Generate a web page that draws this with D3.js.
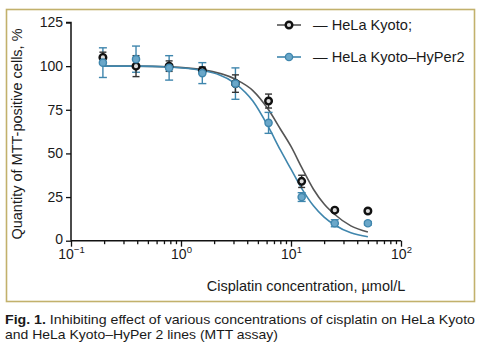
<!DOCTYPE html>
<html><head><meta charset="utf-8">
<script src="https://cdn.jsdelivr.net/npm/d3@7/dist/d3.min.js"></script>
<style>body{margin:0;background:#fff}svg{display:block}text{font-family:"Liberation Sans",Arial,sans-serif;fill:#1a1a1a}</style>
</head><body><svg id="c" width="482" height="355"></svg>
<script>
// concentrations (µmol/L)
const conc = [0.195, 0.39, 0.78, 1.5625, 3.125, 6.25, 12.5, 25, 50];
// HeLa Kyoto (black) mean and error
const helaMean = [105, 100, 100, 97.5, 90, 80, 34, 17.5, 17];
const helaErr  = [3, 6, 3, 2, 5, 4, 3.5, 1, 1];
// HeLa Kyoto–HyPer2 (blue) mean and error
const hyperMean = [102, 104, 99, 96, 90, 67.5, 25, 10, 10];
const hyperErr  = [8.5, 7.5, 7, 6, 9, 6, 2.5, 2, 1];
// fitted curves
const fitConc  = [0.195, 0.39, 0.78, 1.5625, 3.125, 4.5, 6.25, 8, 10, 12.5, 16, 20, 25, 35, 50];
const helaFit  = [100, 100, 99.6, 98, 92.5, 86, 75, 64, 54, 42, 29.5, 21, 15, 8.5, 5];
const hyperFit = [100, 100, 99.5, 97.5, 90, 80, 65, 52, 41, 30, 20, 13.5, 9, 4.5, 2.3];
// ticks
const yTicks = [0, 25, 50, 75, 100, 125];
const xTickExp = [-1, 0, 1, 2];
const seriesNames = ["— HeLa Kyoto;", "— HeLa Kyoto–HyPer2"];

const svg = d3.select("#c");
const BLACK = "#111", GRAY = "#555", BLUE = "#3f86ad", BLUEFILL = "#6aa7c9";
const FONT = '"Liberation Sans",Arial,sans-serif';

// frame
svg.append("rect").attr("x", 6.5).attr("y", 9.5).attr("width", 468).attr("height", 292)
  .attr("fill", "none").attr("stroke", "#c2b16c").attr("stroke-width", 1.6);

const x = d3.scaleLog().domain([0.1, 100]).range([71, 401]);
const y = d3.scaleLinear().domain([0, 125]).range([240.7, 22.5]);

// y axis
const yAxis = d3.axisLeft(y).tickValues(yTicks).tickSize(5).tickPadding(3);
const gy = svg.append("g").attr("transform", "translate(71,0)").call(yAxis);
gy.select(".domain").attr("stroke", BLACK).attr("stroke-width", 1.5).attr("d", `M-5,${y(125)}H0V${y(0)}`);
gy.selectAll(".tick line").attr("stroke", BLACK).attr("stroke-width", 1.3);
gy.selectAll(".tick text").attr("font-size", 14).attr("fill", "#1a1a1a").attr("font-family", FONT)
  .attr("dy", d => d === 0 ? "0.2em" : "0.32em");

// x axis minor ticks
const minor = [];
for (let e = -1; e < 2; e++) for (let k = 2; k <= 9; k++) minor.push(k * Math.pow(10, e));
const xAxisMinor = d3.axisBottom(x).tickValues(minor).tickSize(3.5).tickFormat("");
const gxm = svg.append("g").attr("transform", `translate(0,${y(0)})`).call(xAxisMinor);
gxm.select(".domain").remove();
gxm.selectAll(".tick line").attr("stroke", BLACK).attr("stroke-width", 1.3);

const xAxis = d3.axisBottom(x).tickValues(xTickExp.map(e => Math.pow(10, e))).tickSize(6).tickFormat("");
const gx = svg.append("g").attr("transform", `translate(0,${y(0)})`).call(xAxis);
gx.select(".domain").attr("stroke", BLACK).attr("stroke-width", 1.5).attr("d", `M${x(0.1)},0H${x(100)}`);
gx.selectAll(".tick line").attr("stroke", BLACK).attr("stroke-width", 1.3);
gx.selectAll(".tick").each(function(d, i) {
  const t = d3.select(this).append("text").attr("y", 18).attr("text-anchor", "middle").attr("font-size", 14);
  t.append("tspan").text("10");
  t.append("tspan").attr("font-size", 9.5).attr("dy", -6).text(xTickExp[i] < 0 ? "−" + (-xTickExp[i]) : xTickExp[i]);
});

// axis titles
svg.append("text").attr("transform", `translate(22,134) rotate(-90)`).attr("text-anchor", "middle")
  .attr("font-size", 14.5).text("Quantity of MTT-positive cells, %");
svg.append("text").attr("x", 306).attr("y", 291).attr("text-anchor", "middle")
  .attr("font-size", 14.5).text("Cisplatin concentration, µmol/L");

// curves
const line = d3.line().x(d => x(d[0])).y(d => y(d[1])).curve(d3.curveMonotoneX);
svg.append("path").datum(fitConc.map((c, i) => [c, helaFit[i]])).attr("d", line)
  .attr("fill", "none").attr("stroke", GRAY).attr("stroke-width", 1.6);
svg.append("path").datum(fitConc.map((c, i) => [c, hyperFit[i]])).attr("d", line)
  .attr("fill", "none").attr("stroke", BLUE).attr("stroke-width", 1.6);

function errBars(mean, err, color, capW) {
  const g = svg.append("g").attr("stroke", color).attr("stroke-width", 1.4).attr("fill", "none");
  conc.forEach((c, i) => {
    const cx = x(c), y1 = y(mean[i] + err[i]), y2 = y(mean[i] - err[i]);
    g.append("line").attr("x1", cx).attr("x2", cx).attr("y1", y1).attr("y2", y2);
    g.append("line").attr("x1", cx - capW).attr("x2", cx + capW).attr("y1", y1).attr("y2", y1);
    g.append("line").attr("x1", cx - capW).attr("x2", cx + capW).attr("y1", y2).attr("y2", y2);
  });
}
errBars(hyperMean, hyperErr, BLUE, 4);
errBars(helaMean, helaErr, "#333", 3.5);

// points
svg.append("g").selectAll("circle").data(conc).join("circle")
  .attr("cx", d => x(d)).attr("cy", (d, i) => y(helaMean[i])).attr("r", 3.3)
  .attr("fill", "#ddd").attr("stroke", BLACK).attr("stroke-width", 2.4);
svg.append("g").selectAll("circle").data(conc).join("circle")
  .attr("cx", d => x(d)).attr("cy", (d, i) => y(hyperMean[i])).attr("r", 3.6)
  .attr("fill", BLUEFILL).attr("stroke", BLUE).attr("stroke-width", 1.4);

// legend
const lg = [{c: GRAY, mk: "black", yy: 25}, {c: BLUE, mk: "blue", yy: 57}];
lg.forEach((L, i) => {
  svg.append("line").attr("x1", 277).attr("x2", 301).attr("y1", L.yy).attr("y2", L.yy)
    .attr("stroke", L.c).attr("stroke-width", 1.6);
  if (L.mk === "black") {
    svg.append("circle").attr("cx", 289).attr("cy", L.yy).attr("r", 3.3).attr("fill", "#ddd")
      .attr("stroke", BLACK).attr("stroke-width", 2.4);
  } else {
    svg.append("circle").attr("cx", 289).attr("cy", L.yy).attr("r", 3.6).attr("fill", BLUEFILL)
      .attr("stroke", BLUE).attr("stroke-width", 1.4);
  }
  svg.append("text").attr("x", 313).attr("y", L.yy + 5).attr("font-size", 14.6).text(seriesNames[i]);
});

// caption
const cap = svg.append("text").attr("x", 5).attr("y", 324).attr("font-size", 13.2)
  .attr("textLength", 470).attr("lengthAdjust", "spacingAndGlyphs");
cap.append("tspan").attr("font-weight", "bold").text("Fig. 1.");
cap.append("tspan").text(" Inhibiting effect of various concentrations of cisplatin on HeLa Kyoto");
svg.append("text").attr("x", 5).attr("y", 339).attr("font-size", 13.2)
  .attr("textLength", 273).attr("lengthAdjust", "spacingAndGlyphs")
  .text("and HeLa Kyoto–HyPer 2 lines (MTT assay)");
</script></body></html>
